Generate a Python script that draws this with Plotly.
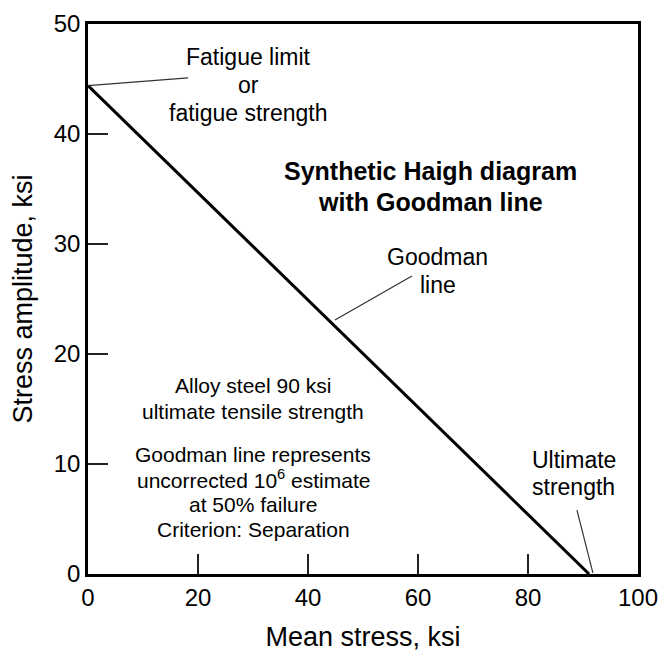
import plotly.graph_objects as go

# Goodman line endpoints (mean stress, stress amplitude), ksi
goodman_x = [0, 91.1]
goodman_y = [44.4, 0]

# leader lines
fatigue_leader_x = [0, 18.2]
fatigue_leader_y = [44.4, 45.1]
goodman_leader_x = [44.9, 58.9]
goodman_leader_y = [23.1, 27.1]
ultimate_leader_x = [88.9, 91.8]
ultimate_leader_y = [5.8, 0.1]

x_ticks = [0, 20, 40, 60, 80, 100]
y_ticks = [0, 10, 20, 30, 40, 50]

FONT = "Liberation Sans, Arial, Helvetica, sans-serif"

fig = go.Figure()
fig.add_trace(go.Scatter(x=goodman_x, y=goodman_y, mode="lines",
                         line=dict(color="black", width=3), showlegend=False, hoverinfo="skip"))
for lx, ly in [(fatigue_leader_x, fatigue_leader_y),
               (goodman_leader_x, goodman_leader_y),
               (ultimate_leader_x, ultimate_leader_y)]:
    fig.add_trace(go.Scatter(x=lx, y=ly, mode="lines",
                             line=dict(color="#333333", width=1.2), showlegend=False, hoverinfo="skip"))

# text lines: (text, x, y, size, bold)
text_lines = [
    ("Fatigue limit", 29.2, 47.0, 23, False),
    ("or", 29.2, 44.5, 23, False),
    ("fatigue strength", 29.2, 41.9, 23, False),
    ("Synthetic Haigh diagram", 62.2, 36.6, 25, True),
    ("with Goodman line", 62.2, 33.85, 25, True),
    ("Goodman", 63.6, 28.8, 23, False),
    ("line", 63.6, 26.25, 23, False),
    ("Alloy steel 90 ksi", 30.0, 17.1, 21, False),
    ("ultimate tensile strength", 30.0, 14.8, 21, False),
    ("Goodman line represents", 30.0, 10.9, 21, False),
    ("uncorrected 10<sup>6</sup> estimate", 30.0, 8.6, 21, False),
    ("at 50% failure", 30.0, 6.3, 21, False),
    ("Criterion: Separation", 30.0, 4.05, 21, False),
    ("Ultimate", 88.3, 10.35, 23, False),
    ("strength", 88.3, 7.95, 23, False),
]
for t, x, y, s, b in text_lines:
    fig.add_annotation(x=x, y=y, text=f"<b>{t}</b>" if b else t, showarrow=False,
                       xanchor="center", yanchor="middle",
                       font=dict(family=FONT, size=s, color="black"))

axis_common = dict(showline=True, linecolor="black", linewidth=2.5, mirror=True,
                   ticks="inside", ticklen=20, tickwidth=2, tickcolor="#222222",
                   showgrid=False, zeroline=False, automargin=False,
                   tickfont=dict(family=FONT, size=24, color="black"))

fig.update_xaxes(range=[0, 100], tickvals=x_ticks, ticktext=[str(v) for v in x_ticks],
                 title=dict(text="Mean stress, ksi", font=dict(family=FONT, size=27, color="black"), standoff=18),
                 **axis_common)
fig.update_yaxes(range=[0, 50], tickvals=y_ticks, ticktext=[str(v) for v in y_ticks],
                 title=dict(text="Stress amplitude, ksi", font=dict(family=FONT, size=27, color="black"), standoff=14),
                 **axis_common)

fig.update_layout(width=664, height=652, margin=dict(l=88, r=26, t=24, b=78),
                  plot_bgcolor="white", paper_bgcolor="white", showlegend=False)

fig.write_html("out.html")
